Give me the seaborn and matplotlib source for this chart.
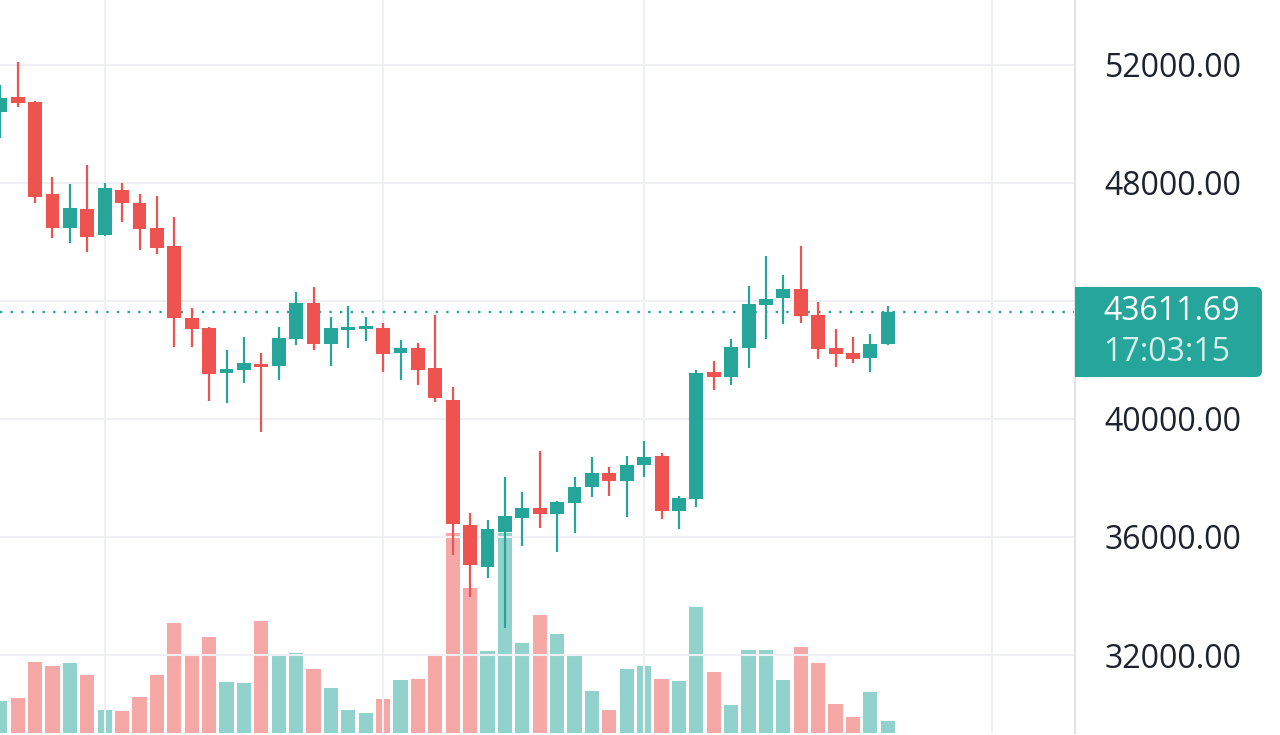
import matplotlib
matplotlib.use("Agg")
import matplotlib.pyplot as plt
from matplotlib.patches import FancyBboxPatch, Rectangle
from matplotlib.transforms import IdentityTransform
import numpy as np
import pandas as pd
import seaborn as sns

# Daily candles, oldest first
opens = [50407, 50915, 50746, 47627, 46475, 47119, 46237, 47763, 47322, 46475,
         45864, 43424, 43085, 41559, 41661, 41864, 41797, 42712, 43932, 42542,
         43017, 43051, 43085, 42237, 42407, 41729, 40644, 36407, 34983, 36169,
         36644, 36983, 36780, 37153, 37695, 38169, 37898, 38441, 38746, 36881,
         37288, 41593, 41424, 42407, 43864, 44102, 44407, 43525, 42407, 42237,
         42068, 42542]
highs = [51322, 52102, 50780, 48203, 47966, 48610, 48000, 48000, 47627, 47559,
         46847, 43763, 43120, 42339, 42780, 42237, 43119, 44305, 44475, 43458,
         43831, 43458, 43254, 42678, 42576, 43525, 41085, 36814, 36576, 38034,
         37525, 38915, 37220, 38034, 38712, 38373, 38746, 39254, 38847, 37390,
         41661, 41966, 42712, 44508, 45525, 44881, 45864, 43966, 43051, 42780,
         42881, 43831]
lows = [49525, 50576, 47322, 46136, 45966, 45661, 46200, 46678, 45729, 45593,
        42441, 42441, 40610, 40542, 41220, 39559, 41322, 42508, 42339, 41797,
        42407, 42644, 41593, 41322, 41153, 40576, 35390, 33966, 34610, 32915,
        35695, 36305, 35492, 36136, 37356, 37390, 36678, 38034, 36610, 36271,
        37017, 40983, 41153, 41729, 42712, 43220, 43254, 42034, 41763, 41898,
        41593, 42508]
closes = [50881, 50712, 47525, 46475, 47153, 46169, 47831, 47322, 46441, 45797,
          43424, 43051, 41525, 41695, 41898, 41763, 42746, 43932, 42542, 43085,
          43119, 43153, 42203, 42407, 41661, 40712, 36441, 35051, 36271, 36712,
          36983, 36780, 37186, 37695, 38169, 37898, 38441, 38712, 36881, 37322,
          41559, 41424, 42441, 43898, 44068, 44407, 43492, 42373, 42203, 42034,
          42542, 43612]
volumes = [32, 35, 71, 67, 70, 58, 23, 22, 36, 58,
           110, 79, 96, 51, 50, 112, 79, 80, 64, 45,
           23, 20, 34, 53, 54, 77, 200, 145, 82, 200,
           90, 118, 99, 77, 42, 23, 64, 67, 54, 52,
           126, 61, 28, 83, 83, 53, 86, 70, 29, 16,
           41, 12]

price_ticks = [32000, 36000, 40000, 44000, 48000, 52000]
date_grid = [6, 22, 37, 57]
last_price = 43611.69
countdown = "17:03:15"

UP = "#26a69a"
DOWN = "#ef5350"
GRID = "#eef0f3"
TEXT = "#1e222d"

sns.set_theme(style="white")
plt.rcParams["font.family"] = ["Open Sans", "DejaVu Sans"]

df = pd.DataFrame({"open": opens, "high": highs, "low": lows,
                   "close": closes, "volume": volumes})
df["idx"] = np.arange(len(df))
df["dir"] = np.where(df["close"] >= df["open"], "up", "down")
palette = {"up": UP, "down": DOWN}

fig = plt.figure(figsize=(12.8, 7.35), dpi=100)
rect = [0, 2 / 735, 1075 / 1280, 733 / 735]
ax_vol = fig.add_axes(rect)
ax = fig.add_axes(rect)
ax.patch.set_visible(False)

xlim = (-0.017, 61.76)

# Volume pane underneath
sns.barplot(data=df, x="idx", y="volume", hue="dir", palette=palette,
            native_scale=True, dodge=False, width=0.82, saturation=1,
            alpha=0.5, linewidth=0, errorbar=None, legend=False, ax=ax_vol)
ax_vol.set_xlim(xlim)
ax_vol.set_ylim(0, 733)
ax_vol.set_axis_off()

# Candles
colors = df["dir"].map(palette)
ax.vlines(df["idx"], df["low"], df["high"], colors=colors, lw=1.6, zorder=2)
body_bottom = df[["open", "close"]].min(axis=1)
body_height = (df["close"] - df["open"]).abs().clip(lower=60)
ax.bar(df["idx"], body_height, bottom=body_bottom, width=0.8,
       color=colors, linewidth=0, zorder=3)

ax.set_xlim(xlim)
ax.set_ylim(29356, 54203)

# Grid and right price scale
ax.set_axisbelow(True)
ax.set_xticks(date_grid)
ax.set_yticks(price_ticks)
ax.set_yticklabels(["" if t == 44000 else f"{t:.2f}" for t in price_ticks])
ax.grid(True, color=GRID, lw=1.5)
ax.yaxis.tick_right()
ax.tick_params(axis="x", length=0, labelbottom=False)
ax.tick_params(axis="y", length=0, pad=21.5, labelsize=23, labelcolor=TEXT)
for side in ["top", "left", "bottom"]:
    ax.spines[side].set_visible(False)
ax.spines["right"].set_color("#e0e3eb")
ax.spines["right"].set_linewidth(1.5)

# Last price line and label
ax.axhline(last_price, color=UP, ls=(0, (1, 3.5)), lw=1.7, zorder=1)

box = FancyBboxPatch((1075, 358), 187, 90, boxstyle="round,pad=0,rounding_size=6",
                     transform=IdentityTransform(), facecolor=UP, edgecolor="none")
fig.patches.append(box)
fig.patches.append(Rectangle((1075, 358), 12, 90, transform=IdentityTransform(),
                             facecolor=UP, edgecolor="none"))
fig.text(1103 / 1280, (735 - 312) / 735, f"{last_price:.2f}", color="white",
         fontsize=23, ha="left", va="center")
fig.text(1103 / 1280, (735 - 352) / 735, countdown, color="#d4efec",
         fontsize=23, ha="left", va="center")

fig.savefig("out.png", dpi=100)
